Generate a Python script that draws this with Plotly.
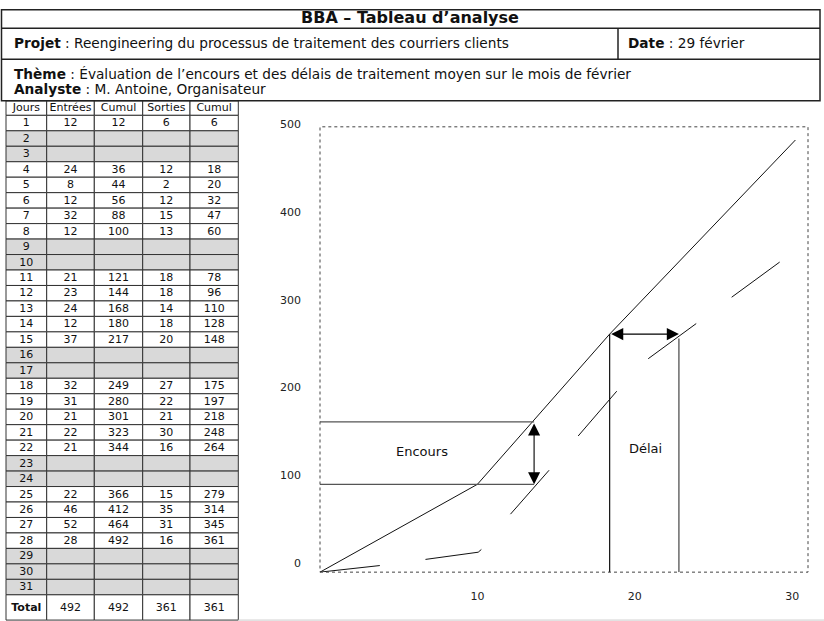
import plotly.graph_objects as go

W, H = 824, 621
FONT = "DejaVu Sans"
# the captured picture shows the page shifted down 8px and scaled 0.987 vertically;
# positions below are given in target-picture pixels and mapped through these
PAGE_TOP, PAGE_SCALE = 8, 0.987


def dom_y(y_pix):
    return 1 - ((y_pix - PAGE_TOP) / PAGE_SCALE) / H


col_headers = ["Jours", "Entrées", "Cumul", "Sorties", "Cumul"]
jours = list(range(1, 32))
entrees = [12, None, None, 24, 8, 12, 32, 12, None, None, 21, 23, 24, 12, 37, None, None,
           32, 31, 21, 22, 21, None, None, 22, 46, 52, 28, None, None, None]
cumul_entrees = [12, None, None, 36, 44, 56, 88, 100, None, None, 121, 144, 168, 180, 217, None, None,
                 249, 280, 301, 323, 344, None, None, 366, 412, 464, 492, None, None, None]
sorties = [6, None, None, 12, 2, 12, 15, 13, None, None, 18, 18, 14, 18, 20, None, None,
           27, 22, 21, 30, 16, None, None, 15, 35, 31, 16, None, None, None]
cumul_sorties = [6, None, None, 18, 20, 32, 47, 60, None, None, 78, 96, 110, 128, 148, None, None,
                 175, 197, 218, 248, 264, None, None, 279, 314, 345, 361, None, None, None]
total_label = "Total"
total_values = [492, 492, 361, 361]

entrees_line_x = [0, 10, 18.4, 30.2]
entrees_line_y = [0, 100, 271, 492]
sorties_seg_x = [[0, 3.8], [6.7, 10.05, 10.25], [12.1, 14.55], [16.4, 18.85], [20.85, 23.9], [26.15, 29.2]]
sorties_seg_y = [[0, 7.5], [14.5, 22.7, 25.8], [66, 116], [155, 206], [243, 283], [313, 353]]
encours_day = 13.6
encours_low = 100
encours_high = 171
delai_start = 18.4
delai_end = 22.8
delai_level = 271
delai_end_level = 266
y_ticks = [0, 100, 200, 300, 400, 500]
x_ticks = [10, 20, 30]

title_text = "<b>BBA – Tableau d’analyse</b>"
projet_text = "<b>Projet</b> : Reengineering du processus de traitement des courriers clients"
date_text = "<b>Date</b> : 29 février"
theme_text = "<b>Thème</b> : Évaluation de l’encours et des délais de traitement moyen sur le mois de février"
analyste_text = "<b>Analyste</b> : M. Antoine, Organisateur"

fig = go.Figure()

fig.add_trace(go.Scatter(x=entrees_line_x, y=entrees_line_y, mode="lines",
                         line=dict(color="#111", width=1), hoverinfo="skip", showlegend=False))
for sx, sy in zip(sorties_seg_x, sorties_seg_y):
    fig.add_trace(go.Scatter(x=sx, y=sy, mode="lines", line=dict(color="#111", width=1),
                             hoverinfo="skip", showlegend=False))
for lvl in [encours_high, encours_low]:
    fig.add_trace(go.Scatter(x=[0, encours_day], y=[lvl, lvl], mode="lines",
                             line=dict(color="#555", width=1.3), hoverinfo="skip", showlegend=False))
fig.add_trace(go.Scatter(x=[delai_start, delai_start], y=[0, delai_level], mode="lines",
                         line=dict(color="#111", width=1.2), hoverinfo="skip", showlegend=False))
fig.add_trace(go.Scatter(x=[delai_end, delai_end], y=[0, delai_end_level], mode="lines",
                         line=dict(color="#444", width=1.2), hoverinfo="skip", showlegend=False))

fig.add_annotation(x=encours_day, y=encours_low, ax=encours_day, ay=encours_high,
                   xref="x", yref="y", axref="x", ayref="y", text="", showarrow=True,
                   arrowside="end+start", arrowhead=2, arrowsize=2.2, arrowwidth=1.1,
                   arrowcolor="#000", standoff=0, startstandoff=0)
fig.add_annotation(x=delai_end, y=delai_level, ax=delai_start, ay=delai_level,
                   xref="x", yref="y", axref="x", ayref="y", text="", showarrow=True,
                   arrowside="end+start", arrowhead=2, arrowsize=2.2, arrowwidth=1.1,
                   arrowcolor="#000", standoff=0, startstandoff=0)
fig.add_annotation(x=6.5, y=137, xref="x", yref="y", text="Encours", showarrow=False,
                   font=dict(family=FONT, size=13, color="#111"))
fig.add_annotation(x=20.65, y=141, xref="x", yref="y", text="Délai", showarrow=False,
                   font=dict(family=FONT, size=13, color="#111"))

fig.add_shape(type="rect", xref="x domain", yref="y domain", x0=0, x1=1, y0=0, y1=1,
              line=dict(color="#444", width=1, dash="3px,3px"), layer="above")

col_edges = [6, 46.7, 94.3, 142.7, 190, 238.3]
header_top, header_h, row_h = 100, 14.5, 15.49
row_edges = [header_top, header_top + header_h]
for _ in jours:
    row_edges.append(row_edges[-1] + row_h)
row_edges.append(620)

table_rows = [col_headers]
for i, d in enumerate(jours):
    vals = [entrees[i], cumul_entrees[i], sorties[i], cumul_sorties[i]]
    table_rows.append([str(d)] + ["" if v is None else str(v) for v in vals])
table_rows.append(["<b>" + total_label + "</b>"] + [str(v) for v in total_values])

tx, ty, tt = [], [], []
for r, row in enumerate(table_rows):
    y0, y1 = row_edges[r], row_edges[r + 1]
    is_weekend = 1 <= r <= len(jours) and all(v == "" for v in row[1:])
    for c, txt in enumerate(row):
        x0, x1 = col_edges[c], col_edges[c + 1]
        fig.add_shape(type="rect", xref="x2", yref="y2", x0=x0, x1=x1, y0=y0, y1=y1,
                      fillcolor="#d9d9d9" if is_weekend else "white",
                      line=dict(color="#333", width=1), layer="below")
        if txt:
            tx.append((x0 + x1) / 2)
            ty.append((y0 + y1) / 2 + 0.5)
            tt.append(txt)
fig.add_trace(go.Scatter(x=tx, y=ty, text=tt, mode="text", xaxis="x2", yaxis="y2",
                         textfont=dict(family=FONT, size=11, color="#111"),
                         textposition="middle center", hoverinfo="skip", showlegend=False))

line_dark = dict(color="#222", width=1.5)
fig.add_shape(type="rect", xref="x2", yref="y2", x0=1.5, x1=820, y0=PAGE_TOP + 0.8, y1=100,
              line=line_dark)
for yl in [27.3, 58.3]:
    fig.add_shape(type="line", xref="x2", yref="y2", x0=1.5, x1=820, y0=yl, y1=yl, line=line_dark)
fig.add_shape(type="line", xref="x2", yref="y2", x0=618, x1=618, y0=27.3, y1=58.3, line=line_dark)
fig.add_shape(type="line", xref="x2", yref="y2", x0=238.3, x1=824, y0=620, y1=620,
              line=dict(color="#cccccc", width=1))

fig.add_annotation(x=410, y=16.5, xref="x2", yref="y2", text=title_text, showarrow=False,
                   font=dict(family=FONT, size=16, color="#111"))
fig.add_annotation(x=12, y=42, xref="x2", yref="y2", text=projet_text, showarrow=False,
                   xanchor="left", font=dict(family=FONT, size=13.7, color="#111"))
fig.add_annotation(x=626, y=42, xref="x2", yref="y2", text=date_text, showarrow=False,
                   xanchor="left", font=dict(family=FONT, size=13.7, color="#111"))
fig.add_annotation(x=12, y=73, xref="x2", yref="y2", text=theme_text, showarrow=False,
                   xanchor="left", font=dict(family=FONT, size=13.7, color="#111"))
fig.add_annotation(x=12, y=88, xref="x2", yref="y2", text=analyste_text, showarrow=False,
                   xanchor="left", font=dict(family=FONT, size=13.7, color="#111"))

fig.update_layout(
    margin=dict(l=0, r=0, t=0, b=0),
    paper_bgcolor="white", plot_bgcolor="rgba(0,0,0,0)",
    xaxis=dict(domain=[320 / W, 808 / W], range=[0, 31], tickvals=x_ticks,
               showgrid=False, zeroline=False, showline=False, ticks="",
               tickfont=dict(family=FONT, size=11, color="#222"), ticklabelstandoff=16),
    yaxis=dict(domain=[dom_y(572), dom_y(126)], range=[0, 507], tickvals=y_ticks,
               showgrid=False, zeroline=False, showline=False, ticks="",
               tickfont=dict(family=FONT, size=11, color="#222"),
               ticklabelstandoff=18, ticklabelshift=-9),
    xaxis2=dict(domain=[0, 1], range=[0, W], visible=False, fixedrange=True),
    yaxis2=dict(domain=[0, 1], range=[PAGE_TOP + PAGE_SCALE * H, PAGE_TOP],
                visible=False, fixedrange=True),
)

fig.write_html("out.html", config={"displayModeBar": False, "responsive": False},
               default_width=f"{W}px",
               default_height=f"{H}px; position:fixed; left:0; top:0; margin:0")
